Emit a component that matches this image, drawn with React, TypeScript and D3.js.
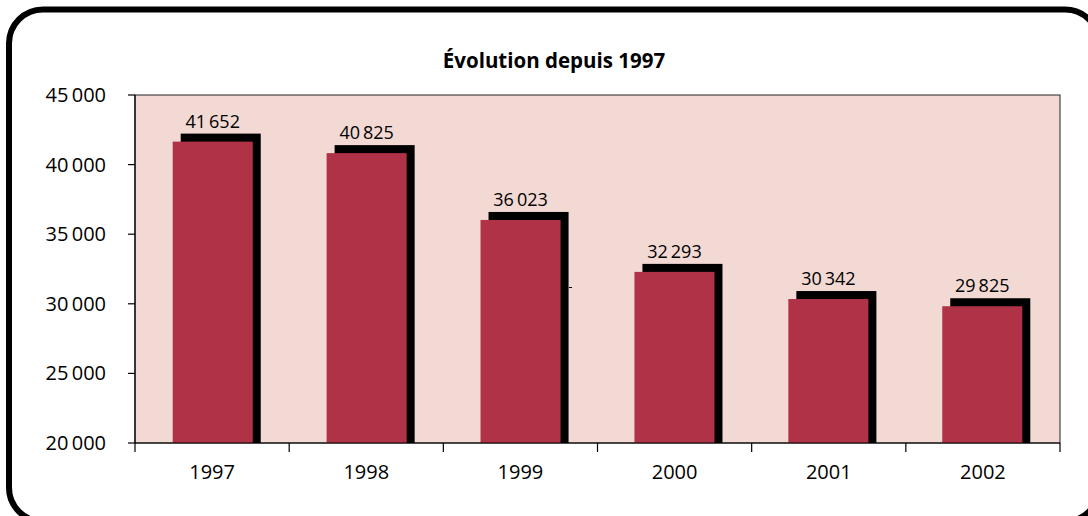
import React from "react";
import * as d3 from "d3";

const years = ["1997", "1998", "1999", "2000", "2001", "2002"];
const values = [41652, 40825, 36023, 32293, 30342, 29825];
const yTicks = [20000, 25000, 30000, 35000, 40000, 45000];
const title = "Évolution depuis 1997";

const W = 1088, H = 516;
const plot = { left: 135, right: 1060, top: 95, bottom: 443 };
const FONT = "'Open Sans', sans-serif";

const fmt = (v: number) => d3.format(",")(v).replace(/,/g, "\u2009");

export default function App() {
  const x = d3.scaleBand<string>().domain(years).range([plot.left, plot.right]).paddingInner(0.48).paddingOuter(0.245);
  const xb = d3.scaleBand<string>().domain(years).range([plot.left, plot.right]);
  const y = d3.scaleLinear().domain([20000, 45000]).range([plot.bottom, plot.top]);
  const off = 8;
  return (
    <svg width={W} height={H} style={{ position: "absolute", left: 0, top: 0 }}>
      <rect x={9} y={9.5} width={1090} height={512} rx={34} ry={34} fill="white" stroke="black" strokeWidth={6} />
      <text x={554} y={68} textAnchor="middle" fontFamily={FONT} fontWeight="bold" fontSize={20.5}>{title}</text>
      <rect x={plot.left} y={plot.top} width={plot.right - plot.left} height={plot.bottom - plot.top} fill="#F2D9D3" stroke="#222" strokeWidth={1} />
      {values.map((v, i) => {
        const bx = x(years[i])!;
        const bw = x.bandwidth();
        const top = y(v);
        return (
          <g key={years[i]}>
            <rect x={bx + off} y={top - off} width={bw} height={plot.bottom - top + off} fill="black" />
            <rect x={bx} y={top} width={bw} height={plot.bottom - top} fill="#B03246" />
            <text x={bx + bw / 2} y={top - off - 6} textAnchor="middle" fontFamily={FONT} fontSize={18}>{fmt(v)}</text>
          </g>
        );
      })}
      <line x1={plot.left} x2={plot.left} y1={plot.top} y2={plot.bottom} stroke="black" strokeWidth={1.2} />
      <line x1={plot.left} x2={plot.right} y1={plot.bottom} y2={plot.bottom} stroke="black" strokeWidth={1.2} />
      {yTicks.map((t) => (
        <g key={t}>
          <line x1={plot.left - 7} x2={plot.left} y1={y(t)} y2={y(t)} stroke="black" strokeWidth={1.2} />
          <text x={106} y={y(t)} dy="0.35em" textAnchor="end" fontFamily={FONT} fontSize={20}>{fmt(t)}</text>
        </g>
      ))}
      {[...years.map((yr) => xb(yr)!), plot.right].map((p, i) => (
        <line key={i} x1={p} x2={p} y1={plot.bottom} y2={plot.bottom + 9} stroke="black" strokeWidth={1.2} />
      ))}
      {years.map((yr) => (
        <text key={yr} x={xb(yr)! + xb.bandwidth() / 2} y={479} textAnchor="middle" fontFamily={FONT} fontSize={20}>{yr}</text>
      ))}
      <line x1={569} x2={572} y1={287.5} y2={287.5} stroke="black" strokeWidth={1} />
    </svg>
  );
}
